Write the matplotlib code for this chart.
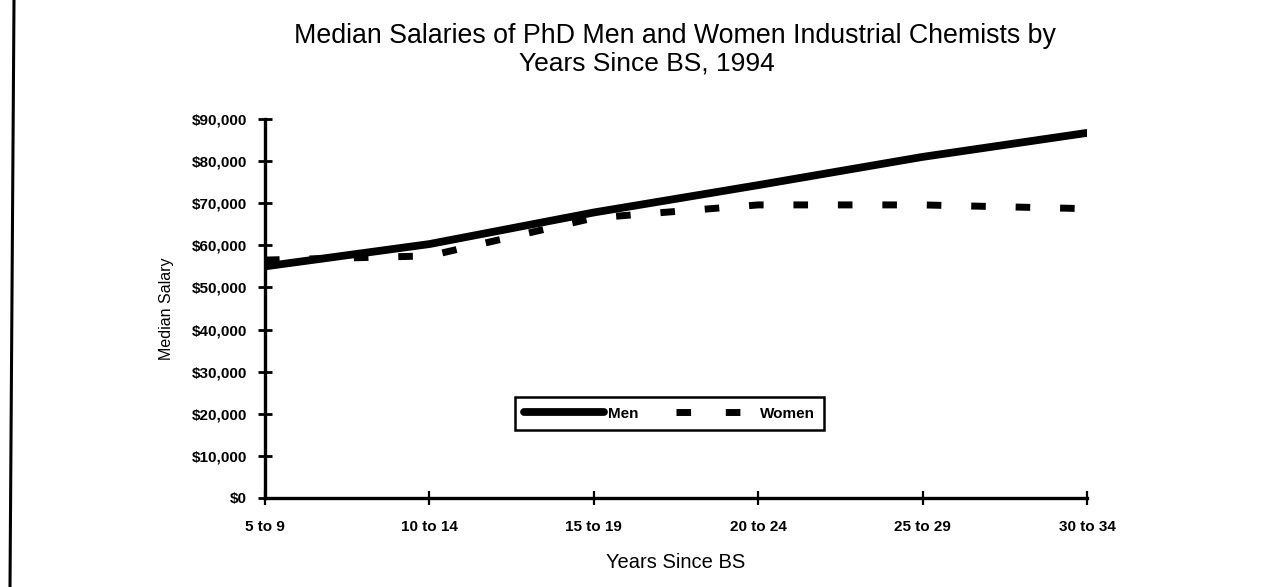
import matplotlib
matplotlib.use("Agg")
import matplotlib.pyplot as plt
from matplotlib.lines import Line2D
from matplotlib.ticker import FuncFormatter

categories = ["5 to 9", "10 to 14", "15 to 19", "20 to 24", "25 to 29", "30 to 34"]
men = [55000, 60300, 67800, 74300, 81000, 86700]
women = [56500, 57500, 66500, 69600, 69600, 68700]
y_ticks = [0, 10000, 20000, 30000, 40000, 50000, 60000, 70000, 80000, 90000]

plt.rcParams['font.family'] = ['Liberation Sans', 'DejaVu Sans']

W, H = 1266, 587
fig = plt.figure(figsize=(W / 100, H / 100), dpi=100)
ax = fig.add_axes([265 / W, 1 - 498 / H, (1087 - 265) / W, (498 - 119) / H])

x = list(range(len(categories)))
ax.plot(x, men, color="black", lw=5.6, solid_capstyle="round", label="Men", zorder=3)
ax.plot(x, women, color="black", lw=5.0, dashes=(2.1, 4.3), dash_capstyle="butt",
        label="Women", zorder=2)

ax.set_xlim(0, len(categories) - 1)
ax.set_ylim(0, 90000)
ax.set_xticks(x)
ax.set_xticklabels(categories)
ax.set_yticks(y_ticks)
ax.yaxis.set_major_formatter(FuncFormatter(lambda v, p: "${:,.0f}".format(v)))

for s in ["top", "right"]:
    ax.spines[s].set_visible(False)
for s in ["left", "bottom"]:
    ax.spines[s].set_linewidth(2.4)
    ax.spines[s].set_color("black")

ax.tick_params(axis="y", direction="inout", length=10, width=2.0, pad=8,
               labelsize=11)
ax.tick_params(axis="x", direction="inout", length=10, width=1.6, pad=11,
               labelsize=11)
for lab in ax.get_xticklabels() + ax.get_yticklabels():
    lab.set_fontweight("bold")

ax.set_ylabel("Median Salary", fontsize=11.5)
ax.yaxis.set_label_coords((174 - 265) / 822, 0.5)
ax.set_xlabel("Years Since BS", fontsize=14.5)
ax.xaxis.set_label_coords(0.5, (498 - 553) / 379)

fig.text(675 / W, 1 - 36 / H, "Median Salaries of PhD Men and Women Industrial Chemists by",
         ha="center", va="center", fontsize=19.3)
fig.text(647 / W, 1 - 63 / H, "Years Since BS, 1994",
         ha="center", va="center", fontsize=19.0)

handles = [Line2D([], [], color="black", lw=5.6, solid_capstyle="round"),
           Line2D([], [], color="black", lw=5.0, dashes=(2.1, 5.0))]
leg = ax.legend(handles, ["Men", "Women"], loc="center",
                bbox_to_anchor=((669.5 - 265) / 822, (498 - 413.5) / 379),
                ncol=2, handlelength=5.2, handletextpad=0.3,
                columnspacing=2.4, frameon=True, fancybox=False, borderpad=0.6,
                borderaxespad=0, prop={"weight": "bold", "size": 11})
leg.get_frame().set_edgecolor("black")
leg.get_frame().set_linewidth(1.8)
leg.get_frame().set_alpha(1)

# page border line on the left
fig.add_artist(Line2D([14 / W, 10 / W], [1, 0], color="black", lw=2.2,
                      transform=fig.transFigure))

fig.savefig("out.png", dpi=100)
